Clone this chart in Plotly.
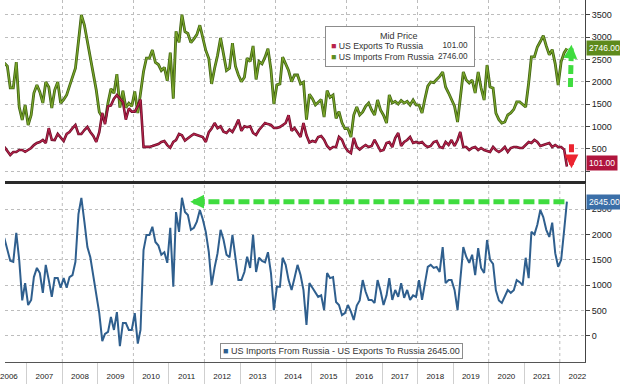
import pandas as pd
import plotly.graph_objects as go

# ---------------- data (monthly, May 2006 .. Mar 2022) ----------------
months = pd.date_range("2006-05-01", "2022-03-01", freq="MS") + pd.Timedelta(days=14)

exports = [
    540, 450, 360, 425, 425, 470, 470, 430,
    470, 515, 580, 627, 650, 694, 627, 960, 700, 694, 830, 760,
    672, 830, 874, 960, 1030, 830, 830, 918, 986, 874, 784, 650,
    870, 1300, 1050, 1450, 1470, 1620, 1700, 1620, 1550, 1150, 1400, 1330,
    1330, 1450, 1600, 540, 540, 540, 560, 580, 605, 650, 672, 580,
    520, 650, 690, 830, 800, 680, 739, 784, 830, 806, 784, 762,
    650, 870, 950, 1075, 960, 1000, 880, 851, 930, 874, 1000, 1150,
    900, 1000, 980, 1000, 851, 806, 918, 986, 1075, 1050, 1030, 963,
    963, 986, 1030, 1075, 1250, 900, 963, 874, 762, 1075, 800, 640,
    672, 650, 762, 784, 700, 560, 493, 538, 538, 762, 700, 538,
    448, 403, 739, 538, 480, 538, 582, 538, 560, 700, 560, 448,
    470, 627, 650, 538, 739, 850, 560, 650, 694, 762, 627, 650,
    627, 650, 582, 538, 560, 650, 672, 538, 515, 650, 582, 694,
    560, 694, 874, 538, 538, 470, 515, 538, 470, 515, 470, 448,
    426, 538, 470, 426, 470, 538, 426, 515, 538, 538, 515, 515,
    582, 650, 627, 694, 650, 560, 582, 605, 627, 538, 582, 538,
    538, 480, 101,
]

imports = [
    2420, 2350, 1860, 1860, 2440, 1434, 1142, 1478,
    1030, 1254, 1747, 1926, 1770, 1523, 1994, 1882, 1411, 1814, 1994, 1523,
    1600, 1702, 1900, 2100, 2300, 2900, 3494, 3270, 2900, 2550, 2200, 1814,
    1320, 1200, 1110, 1530, 1840, 1740, 2170, 1420, 1800, 1420, 1520, 1450,
    1780, 1300, 1720, 2230, 2530, 2530, 2710, 2430, 2385, 2250, 2320, 2020,
    2650, 1620, 3130, 2880, 3500, 3120, 3080, 2874, 2960, 3056, 3264, 2950,
    2700, 2520, 1950, 2300, 2590, 2980, 2650, 2250, 2300, 2864, 2350, 2150,
    2000, 2100, 2530, 2450, 2800, 2050, 2450, 2400, 2550, 2740, 2270, 1500,
    1930, 1950, 2550, 2380, 2250, 2000, 2150, 2150, 1950, 1990, 1150, 1720,
    1620, 1480, 1530, 1600, 1210, 1800, 1650, 1700, 1180, 1330, 1080, 950,
    950, 762, 1254, 1434, 1254, 1322, 1450, 1523, 1366, 1254, 1590, 1366,
    1250, 1075, 1702, 1523, 1560, 1500, 1580, 1520, 1560, 1478, 1590, 1480,
    1478, 1299, 1600, 1900, 1994, 1980, 2050, 2120, 2218, 1882, 1747, 1600,
    1450, 1098, 1658, 2218, 2038, 1971, 2038, 1747, 2218, 1859, 1590, 2374,
    1882, 1859, 1299, 1150, 1075, 1098, 1254, 1299, 1380, 1546, 1546, 1500,
    1434, 1971, 2554, 2554, 2778, 2900, 3030, 2800, 2600, 2720, 2400, 1926,
    2450, 2650, 2746,
]

balance = [
    1930, 1700, 1480, 1460, 2030, 1500, 700, 1040,
    610, 710, 1160, 1340, 1240, 850, 1400, 1100, 770, 1140, 1140, 950,
    1140, 950, 1160, 1200, 1460, 2400, 2720, 2250, 1750, 1550, 1150, 800,
    450, -100, 40, 80, 375, 120, 470, -200, 256, 256, 120, 120,
    450, -150, 120, 1690, 1990, 1990, 2150, 1850, 1780, 1600, 1650, 1440,
    2130, 970, 2440, 2050, 2720, 2440, 2380, 2090, 2130, 2250, 2480, 2300,
    2050, 1650, 1000, 1350, 1630, 2090, 1900, 1600, 1550, 1990, 1560, 1100,
    1100, 1260, 1560, 1340, 1990, 1260, 1540, 1480, 1450, 1650, 1240, 510,
    970, 970, 1540, 1400, 1100, 906, 1140, 1400, 1200, 906, 217, 1040,
    950, 850, 770, 800, 510, 1240, 1140, 1160, 670, 610, 410, 450,
    610, 480, 315, 600, 700, 1100, 870, 710, 710, 650, 1100, 890,
    610, 800, 1140, 710, 906, 770, 1040, 750, 906, 710, 800, 770,
    1100, 710, 1000, 1360, 1400, 1340, 1360, 1260, 1750, 1040, 1100, 1100,
    906, 510, 1100, 1750, 1560, 1440, 1600, 1200, 1730, 1340, 1240, 1890,
    1500, 1420, 900, 700, 650, 770, 906, 850, 900, 1100, 1060, 1000,
    1540, 1140, 2050, 2000, 2190, 2480, 2340, 2090, 1950, 2230, 1630, 1360,
    1500, 2090, 2645,
]

top_ticks = [0, 500, 1000, 1500, 2000, 2500, 3000, 3500]
top_labels = ["", "500", "1000", "1500", "2000", "2500", "3000", "3500"]
bot_ticks = [0, 500, 1000, 1500, 2000, 2500]
bot_labels = ["0", "500", "1000", "1500", "2000", "2500"]
grid_years = [2008, 2010, 2012, 2014, 2016, 2018, 2020, 2022]

last_exp, last_imp, last_bal = exports[-1], imports[-1], balance[-1]

# ---------------- style ----------------
FONT = "Liberation Sans, Arial, sans-serif"
GRID = "#bdbdbd"
GREEN_DARK, GREEN = "#3f6112", "#7aa62a"
RED_DARK, RED = "#6a0e29", "#b8234b"
BLUE = "#2f5f8e"
BRIGHT_GREEN = "#3fdc3f"
BRIGHT_RED = "#ec2430"
XR = ["2006-05-22", "2022-09-17"]

fig = go.Figure()

# top panel: imports & exports (double stroke like the terminal look)
fig.add_trace(go.Scatter(x=months, y=imports, mode="lines", xaxis="x", yaxis="y",
                         line=dict(color=GREEN_DARK, width=2.8), showlegend=False, hoverinfo="skip"))
fig.add_trace(go.Scatter(x=months, y=imports, mode="lines", xaxis="x", yaxis="y",
                         line=dict(color=GREEN, width=1.2), showlegend=False,
                         name="US Imports From Russia"))
fig.add_trace(go.Scatter(x=months, y=exports, mode="lines", xaxis="x", yaxis="y",
                         line=dict(color=RED_DARK, width=2.6), showlegend=False, hoverinfo="skip"))
fig.add_trace(go.Scatter(x=months, y=exports, mode="lines", xaxis="x", yaxis="y",
                         line=dict(color=RED, width=1.1), showlegend=False,
                         name="US Exports To Russia"))
# bottom panel: balance
fig.add_trace(go.Scatter(x=months, y=balance, mode="lines", xaxis="x2", yaxis="y2",
                         line=dict(color=BLUE, width=2), showlegend=False,
                         name="US Imports From Russia - US Exports To Russia"))

axis_font = dict(family=FONT, size=9, color="#222")

fig.update_layout(
    width=620, height=384,
    margin=dict(l=0, r=35, t=0, b=22),
    paper_bgcolor="white", plot_bgcolor="white",
    font=dict(family=FONT, size=9, color="#222"),
    showlegend=False,
    xaxis=dict(domain=[0, 1], anchor="y", matches="x2", type="date", range=XR,
               showticklabels=False, ticks="", tickmode="linear",
               tick0="2008-01-01", dtick="M24",
               showgrid=True, gridcolor=GRID, griddash="dot", gridwidth=1,
               showline=True, linecolor="#2a2a2a", linewidth=3, zeroline=False),
    xaxis2=dict(domain=[0, 1], anchor="y2", type="date", range=XR,
                tickmode="linear", tick0="2006-07-01", dtick="M12", tickformat="%Y",
                ticks="", showgrid=False, ticklabelstandoff=6,
                ticklabeloverflow="allow",
                tickfont=dict(family=FONT, size=8, color="#222"),
                showline=True, linecolor="#555", linewidth=1, zeroline=False,
                minor=dict(tickmode="linear", tick0="2007-01-01", dtick="M12",
                           ticks="outside", ticklen=22, tickcolor="#cfcfcf",
                           tickwidth=1, showgrid=False)),
    yaxis=dict(domain=[0.5, 1], anchor="x", side="right", range=[-224, 3830],
               tickmode="array", tickvals=top_ticks, ticktext=top_labels,
               showgrid=True, gridcolor=GRID, griddash="dot", gridwidth=1,
               ticks="outside", ticklen=4, tickcolor="#444",
               showline=True, linecolor="#444", linewidth=1, zeroline=False,
               tickfont=axis_font),
    yaxis2=dict(domain=[0, 0.4945], anchor="x2", side="right", range=[-512, 3012],
                tickmode="array", tickvals=bot_ticks, ticktext=bot_labels,
                showgrid=True, gridcolor=GRID, griddash="dot", gridwidth=1,
                ticks="outside", ticklen=4, tickcolor="#444",
                showline=True, linecolor="#444", linewidth=1, zeroline=False,
                tickfont=axis_font),
)

shapes = []
# vertical dotted gridlines in the lower panel
for yr in grid_years:
    shapes.append(dict(type="line", xref="x2", yref="y2 domain",
                       x0=f"{yr}-01-01", x1=f"{yr}-01-01", y0=0, y1=1,
                       line=dict(color=GRID, width=1, dash="dot"), layer="below"))

# dashed highlight arrows (shafts)
shapes.append(dict(type="line", xref="x2", yref="y2",
                   x0="2011-09-10", x1=months[-1], y0=last_bal, y1=last_bal,
                   line=dict(color=BRIGHT_GREEN, width=5, dash="11px,4px")))
shapes.append(dict(type="line", xref="x", yref="y",
                   x0="2022-04-20", x1="2022-04-28", y0=1880, y1=2600,
                   line=dict(color=BRIGHT_GREEN, width=5, dash="9px,4px")))
shapes.append(dict(type="line", xref="x", yref="y",
                   x0="2022-05-01", x1="2022-05-01", y0=600, y1=300,
                   line=dict(color=BRIGHT_RED, width=5, dash="8px,3px")))
fig.update_layout(shapes=shapes)

ann = []
# arrow heads
ann.append(dict(xref="x2", yref="y2", x="2011-08-08", y=last_bal, text="",
                showarrow=True, arrowhead=2, arrowsize=0.55, arrowwidth=5,
                arrowcolor=BRIGHT_GREEN, ax=16, ay=0))
ann.append(dict(xref="x", yref="y", x="2022-05-01", y=2830, text="",
                showarrow=True, arrowhead=2, arrowsize=0.55, arrowwidth=5,
                arrowcolor=BRIGHT_GREEN, ax=-1, ay=12))
ann.append(dict(xref="x", yref="y", x="2022-05-01", y=60, text="",
                showarrow=True, arrowhead=2, arrowsize=0.55, arrowwidth=5,
                arrowcolor=BRIGHT_RED, ax=0, ay=-12))

# last-value tags on the right axis
ann.append(dict(xref="paper", yref="y", x=1, y=last_imp, xanchor="left", yanchor="middle",
                xshift=1, text=f"{last_imp:.2f}", showarrow=False,
                font=dict(family=FONT, size=8.5, color="white"),
                bgcolor="#5e8a1c", borderpad=2))
ann.append(dict(xref="paper", yref="y", x=1, y=last_exp, xanchor="left", yanchor="middle",
                xshift=1, yshift=3, text=f"{last_exp:.2f}", showarrow=False,
                font=dict(family=FONT, size=8.5, color="white"),
                bgcolor="#b0153d", borderpad=2))
ann.append(dict(xref="paper", yref="y2", x=1, y=last_bal, xanchor="left", yanchor="middle",
                xshift=1, text=f"{last_bal:.2f}", showarrow=False,
                font=dict(family=FONT, size=8.5, color="white"),
                bgcolor="#3b6fa8", borderpad=2))

# top legend box (Mid Price)
ann.append(dict(xref="paper", yref="paper", x=323 / 585, y=1 - 26 / 362,
                xanchor="left", yanchor="top", text=" ", showarrow=False,
                width=146, height=37, bgcolor="white", bordercolor="#8c8c8c",
                borderwidth=1, borderpad=1))
ann.append(dict(xref="paper", yref="paper", x=397 / 585, y=1 - 35.5 / 362,
                xanchor="center", yanchor="middle", text="Mid Price", showarrow=False,
                font=dict(family=FONT, size=9, color="#333")))
ann.append(dict(xref="paper", yref="paper", x=327 / 585, y=1 - 51.3 / 362,
                xanchor="left", yanchor="middle", align="left", showarrow=False,
                text=(f'<span style="color:{RED}">■</span> US Exports To Russia<br>'
                      f'<span style="color:#5f8f1f">■</span> US Imports From Russia'),
                font=dict(family=FONT, size=8.7, color="#333")))
ann.append(dict(xref="paper", yref="paper", x=469 / 585, y=1 - 51.3 / 362,
                xanchor="right", yanchor="middle", align="right", showarrow=False,
                text=f"{last_exp:.2f}<br>{last_imp:.2f}",
                font=dict(family=FONT, size=8.2, color="#333")))

# bottom legend box
ann.append(dict(xref="paper", yref="paper", x=217 / 585, y=1 - 343 / 362,
                xanchor="left", yanchor="top", align="left", showarrow=False,
                text=(f'<span style="color:{BLUE}">■</span> '
                      f'US Imports From Russia - US Exports To Russia {last_bal:.2f}'),
                font=dict(family=FONT, size=9, color="#333"),
                bgcolor="white", bordercolor="#8c8c8c", borderwidth=1, borderpad=2))

fig.update_layout(annotations=ann)

# remove the default 8px page margin so the 620x384 figure fills the window exactly
fig.write_html("out.html",
               config={"displayModeBar": False},
               post_script="document.body.style.margin='0px';document.body.style.overflow='hidden';")
